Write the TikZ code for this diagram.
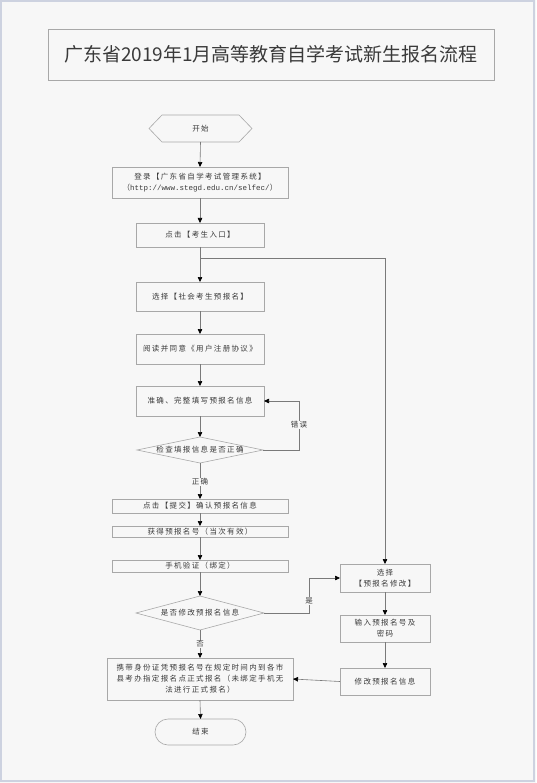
\documentclass[tikz,border=0pt]{standalone}
\usepackage{fontspec}
\usetikzlibrary{arrows.meta}
\newfontfamily\cjk{Noto Sans CJK SC}[LetterSpace=18]
\newfontfamily\cjktitle{Noto Sans CJK SC}
\setmonofont{Liberation Mono}
\definecolor{bgc}{HTML}{F7F7F7}
\definecolor{framec}{HTML}{CDD2E0}
\definecolor{boxc}{HTML}{A8A8A8}
\definecolor{linec}{HTML}{7A7A7A}
\definecolor{txtc}{HTML}{3A3A3A}
\tikzset{
  x=1pt,y=-1pt,
  base/.style={inner sep=0pt, outer sep=0pt, text=txtc, font=\cjk\fontsize{7.5}{11}\selectfont, align=center},
  stepbox/.style={base, draw=boxc, line width=0.6pt, rectangle},
  plain/.style={base},
  conn/.style={draw=linec, line width=0.6pt, -{Triangle[width=4.5pt,length=5pt,black]}},
  nline/.style={draw=linec, line width=0.6pt},
  lab/.style={base, fill=bgc, inner sep=1pt},
}
\begin{document}
\begin{tikzpicture}
\useasboundingbox (0,0) rectangle (536,783);
\fill[bgc] (0,0) rectangle (536,783);
\draw[framec, line width=1.2pt] (1,1) rectangle (534,781);

% title
\node[stepbox, minimum width=446pt, minimum height=51pt, font=\cjktitle\fontsize{19}{23}\selectfont] (title) at (271,54.5) {广东省2019年1月高等教育自学考试新生报名流程};

% start hexagon
\node[plain, minimum width=103pt, minimum height=27pt] (start) at (200.5,128.5) {开始};
\draw[boxc, line width=0.6pt] (start.west) -- ([xshift=13pt]start.north west) -- ([xshift=-13pt]start.north east) -- (start.east) -- ([xshift=-13pt]start.south east) -- ([xshift=13pt]start.south west) -- cycle;

\node[stepbox, minimum width=176pt, minimum height=31pt] (login) at (200,182.5) {登录【广东省自学考试管理系统】\\（{\ttfamily\fontsize{7.5}{11}\selectfont http://www.stegd.edu.cn/selfec/}）};
\node[stepbox, minimum width=128pt, minimum height=24pt] (entry) at (200,235) {点击【考生入口】};
\node[stepbox, minimum width=128pt, minimum height=29pt] (select) at (200,296.5) {选择【社会考生预报名】};
\node[stepbox, minimum width=128pt, minimum height=30pt] (read) at (200,349) {阅读并同意《用户注册协议》};
\node[stepbox, minimum width=128pt, minimum height=30pt] (fillin) at (200,401) {准确、完整填写预报名信息};

% check diamond
\node[plain, minimum width=126pt, minimum height=26pt] (check) at (200,450) {检查填报信息是否正确};
\draw[boxc, line width=0.6pt] (check.west) -- (check.north) -- (check.east) -- (check.south) -- cycle;

\node[stepbox, minimum width=176pt, minimum height=14pt] (submit) at (200,506) {点击【提交】确认预报名信息};
\node[stepbox, minimum width=176pt, minimum height=11pt] (getno) at (200,531.5) {获得预报名号（当次有效）};
\node[stepbox, minimum width=176pt, minimum height=12pt] (phone) at (200,566) {手机验证（绑定）};

% modify diamond
\node[plain, minimum width=128pt, minimum height=34pt] (ask) at (200,613) {是否修改预报名信息};
\draw[boxc, line width=0.6pt] (ask.west) -- (ask.north) -- (ask.east) -- (ask.south) -- cycle;

\node[stepbox, minimum width=186pt, minimum height=42pt] (final) at (200,679) {携带身份证凭预报名号在规定时间内到各市\\县考办指定报名点正式报名（未绑定手机无\\法进行正式报名）};

% end terminator
\node[stepbox, minimum width=91pt, minimum height=26pt, rounded corners=13pt] (stop) at (200.5,732) {结束};

% right column
\node[stepbox, minimum width=90pt, minimum height=28pt] (sel2) at (385,578) {选择\\【预报名修改】};
\node[stepbox, minimum width=90pt, minimum height=27pt] (input) at (385,628.5) {输入预报名号及\\密码};
\node[stepbox, minimum width=90pt, minimum height=27pt] (mod) at (385,681.5) {修改预报名信息};

% connectors
\draw[conn] (start.south) -- (login.north);
\draw[conn] (login.south) -- (entry.north);
\coordinate (br) at (200,258);
\coordinate (brr) at (385,258);
\draw[conn] (entry.south) -- (select.north);
\draw[nline] (br) -- (brr);
\draw[conn] (brr) -- (sel2.north);
\draw[conn] (select.south) -- (read.north);
\draw[conn] (read.south) -- (fillin.north);
\draw[conn] (fillin.south) -- (check.north);

\coordinate (errc) at (299,450);
\draw[conn] (check.east) -- (errc) |- (fillin.east);
\node[lab] (errlab) at (299,425) {错误};

\draw[conn] (check.south) -- (submit.north);
\node[lab] (oklab) at (200,482) {正确};
\draw[conn] (submit.south) -- (getno.north);
\draw[conn] (getno.south) -- (phone.north);
\draw[conn] (phone.south) -- (ask.north);

\coordinate (yesc) at (309,613);
\draw[conn] (ask.east) -- (yesc) |- (sel2.west);
\node[lab] (yeslab) at (309,601) {是};

\draw[conn] (ask.south) -- (final.north);
\node[lab] (nolab) at (200,644) {否};

\draw[conn] (sel2.south) -- (input.north);
\draw[conn] (input.south) -- (mod.north);
\draw[conn] (mod.west) -- (final.east);
\draw[conn] (final.south) -- (stop.north);
\end{tikzpicture}
\end{document}
